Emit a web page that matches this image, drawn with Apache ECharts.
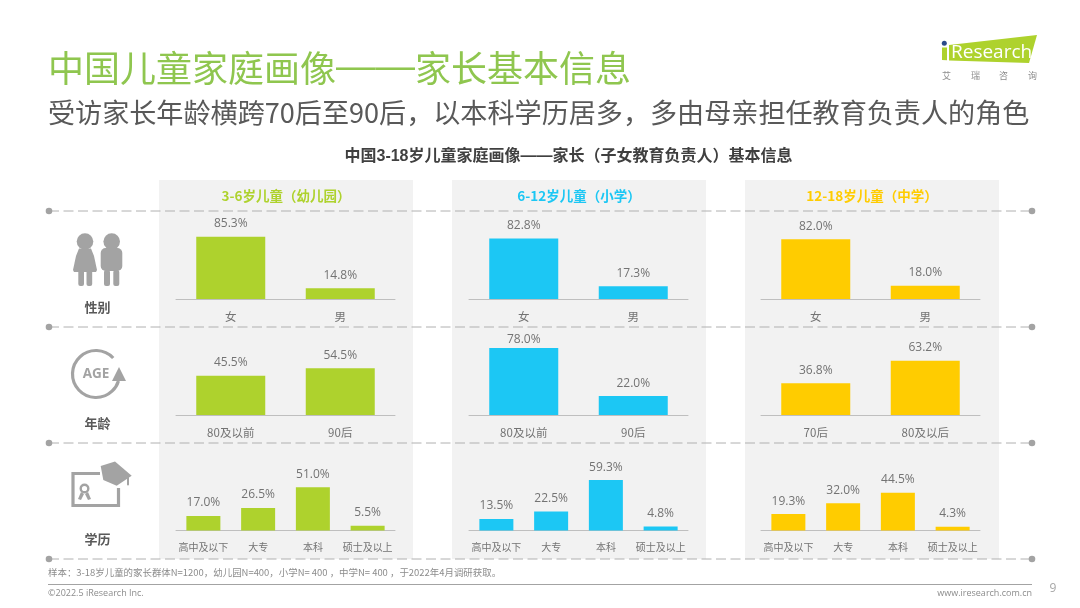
<!DOCTYPE html>
<html>
<head>
<meta charset="utf-8">
<style>html,body{margin:0;padding:0;background:#fff}#chart{width:1080px;height:608px}</style>
<script src="https://cdn.jsdelivr.net/npm/echarts@6/dist/echarts.min.js"></script>
</head>
<body>
<div id="chart"></div>
<script>
const sexKinder = [85.3, 14.8];
const sexPrimary = [82.8, 17.3];
const sexMiddle = [82.0, 18.0];
const ageKinder = [45.5, 54.5];
const agePrimary = [78.0, 22.0];
const ageMiddle = [36.8, 63.2];
const eduKinder = [17.0, 26.5, 51.0, 5.5];
const eduPrimary = [13.5, 22.5, 59.3, 4.8];
const eduMiddle = [19.3, 32.0, 44.5, 4.3];

const sexLabels = ['女', '男'];
const ageLabelsA = ['80及以前', '90后'];
const ageLabelsB = ['70后', '80及以后'];
const eduLabels = ['高中及以下', '大专', '本科', '硕士及以上'];
const panelTitles = ['3-6岁儿童（幼儿园）', '6-12岁儿童（小学）', '12-18岁儿童（中学）'];
const rowTitles = ['性别', '年龄', '学历'];

const FONT = '"Open Sans","Noto Sans CJK SC",sans-serif';
const CJK = '"Noto Sans CJK SC","Noto Sans",sans-serif';
// Liberation first so the em dashes come out full width
const WIDE_DASH = '"Liberation Sans","Noto Sans CJK SC",sans-serif';
const GREY = '#a3a3a3';
const colors = ['#aed22d', '#1cc7f4', '#ffcc00'];
const panelX = [159, 452, 745];
const gridX = [176, 469, 761];
// top and height of each row, y axis always runs 0-100
const rows = [
  { top: 226, height: 73, barWidth: 69, labelSize: 11.5 },
  { top: 329, height: 86, barWidth: 69, labelSize: 11.5 },
  { top: 445.5, height: 85, barWidth: 34, labelSize: 10 }
];
const table = [
  [[sexLabels, sexKinder], [ageLabelsA, ageKinder], [eduLabels, eduKinder]],
  [[sexLabels, sexPrimary], [ageLabelsA, agePrimary], [eduLabels, eduPrimary]],
  [[sexLabels, sexMiddle], [ageLabelsB, ageMiddle], [eduLabels, eduMiddle]]
];

const grid = [], xAxis = [], yAxis = [], series = [];
table.forEach((panel, p) => {
  panel.forEach(([cats, vals], r) => {
    const i = grid.length;
    grid.push({ left: gridX[p], top: rows[r].top, width: 219, height: rows[r].height });
    xAxis.push({
      type: 'category', gridIndex: i, data: cats,
      axisTick: { show: false },
      axisLine: { lineStyle: { color: '#bfbfbf', width: 1 } },
      axisLabel: { interval: 0, hideOverlap: false, margin: 12, fontSize: rows[r].labelSize, color: '#737373', fontFamily: CJK }
    });
    yAxis.push({ type: 'value', gridIndex: i, min: 0, max: 100, show: false });
    series.push({
      type: 'bar', xAxisIndex: i, yAxisIndex: i, silent: true,
      // the 78.0% label sits closer to its bar in the reference
      data: vals.map(v => (v === 78 ? { value: v, label: { distance: 2 } } : v)),
      barWidth: rows[r].barWidth,
      itemStyle: { color: colors[p] },
      label: {
        show: true, position: 'top', distance: 7, fontSize: 12, color: '#737373',
        fontFamily: FONT, formatter: o => o.value.toFixed(1) + '%'
      }
    });
  });
});

const txt = (x, y, text, fontSize, fill, extra) => ({
  type: 'text', x, y, z: 5,
  style: Object.assign({ text, fontSize, fill, fontFamily: CJK, textVerticalAlign: 'middle', textAlign: 'left' }, extra)
});
const poly = (points, fill) => ({ type: 'polygon', z: 5, shape: { points }, style: { fill } });
const box = (x, y, width, height, r, fill) => ({ type: 'rect', z: 5, shape: { x, y, width, height, r }, style: { fill } });
const dot = (cx, cy, r, fill) => ({ type: 'circle', z: 5, shape: { cx, cy, r }, style: { fill } });

const graphic = [];
panelX.forEach((x, p) => {
  graphic.push({ type: 'rect', z: -1, shape: { x, y: 180, width: 254, height: 379 }, style: { fill: '#f2f2f2' } });
  graphic.push(txt(x + 127, 196, panelTitles[p], 13.5, colors[p], { textAlign: 'center', fontWeight: 'bold' }));
});
[211, 327, 443, 559].forEach(y => {
  graphic.push({ type: 'line', z: 1, shape: { x1: 49, y1: y, x2: 1032, y2: y }, style: { stroke: '#b0b0b0', lineWidth: 1, lineDash: [10, 4.5] } });
  graphic.push(dot(49, y, 3.3, GREY), dot(1032, y, 3.3, GREY));
});
[307, 423, 539].forEach((y, i) => {
  graphic.push(txt(97.5, y, rowTitles[i], 13, '#595959', { textAlign: 'center', fontWeight: 'bold' }));
});

// headings
graphic.push({
  type: 'text', x: 48, y: 68, z: 5,
  style: {
    text: '{a|中国儿童家庭画像}{d|——}{a|家长基本信息}', textVerticalAlign: 'middle',
    rich: {
      a: { fontSize: 36, fontFamily: CJK, fill: '#8fc64f', color: '#8fc64f' },
      d: { fontSize: 39.5, fontFamily: WIDE_DASH, fill: '#8fc64f', color: '#8fc64f' }
    }
  }
});
graphic.push(txt(48, 113, '受访家长年龄横跨70后至90后，以本科学历居多，多由母亲担任教育负责人的角色', 27.1, '#595959'));
graphic.push(txt(568.5, 157, '中国3-18岁儿童家庭画像——家长（子女教育负责人）基本信息', 16, '#404040', { textAlign: 'center', fontWeight: 'bold', fontFamily: WIDE_DASH }));

// gender icon
graphic.push(
  dot(85, 241.5, 8.3, GREY),
  poly([[79, 248.5], [91, 248.5], [94, 256], [97, 270], [96, 272], [74, 272], [73, 270], [76, 256]], GREY),
  box(78.3, 270, 5.7, 16, 2, GREY), box(86.5, 270, 5.7, 16, 2, GREY),
  dot(111.7, 241.5, 8.3, GREY), box(100.7, 248, 21.6, 23, 5, GREY),
  box(104, 270, 6, 16, 2, GREY), box(113.3, 270, 6, 16, 2, GREY)
);
// age icon
graphic.push(
  { type: 'arc', z: 5, shape: { cx: 96, cy: 374, r: 23.5, startAngle: -0.75, endAngle: 0.3, clockwise: false }, style: { stroke: GREY, lineWidth: 3.2, fill: 'none' } },
  poly([[119, 367], [126, 381], [112, 381]], GREY),
  txt(96, 374, 'AGE', 13.5, GREY, { textAlign: 'center', fontWeight: 'bold', fontFamily: FONT })
);
// education icon
graphic.push(
  { type: 'polyline', z: 5, shape: { points: [[100, 473.5], [73, 473.5], [73, 505.5], [118.5, 505.5], [118.5, 488]] }, style: { stroke: GREY, lineWidth: 3.2, fill: 'none' } },
  poly([[100.7, 466], [115, 461.5], [131.7, 475.7], [116.7, 485.7], [103.3, 480]], GREY),
  box(127, 476, 2, 9.5, 1, GREY),
  { type: 'circle', z: 5, shape: { cx: 84.5, cy: 488.5, r: 3.8 }, style: { stroke: GREY, lineWidth: 2.4, fill: 'none' } },
  poly([[81, 492], [84, 494], [81, 500], [78, 499]], GREY),
  poly([[88, 492], [85, 494], [88, 500], [91, 499]], GREY)
);
// logo
graphic.push(
  poly([[949, 45], [1037, 35], [1029, 63], [949, 60.5]], '#aed22d'),
  poly([[942, 47.5], [947, 47.5], [947, 60.2], [942, 60]], '#aed22d'),
  dot(944.3, 43.3, 2.5, '#2b4a8b'),
  txt(951, 52.5, 'Research', 19, '#ffffff', { fontFamily: FONT }),
  txt(942, 76, '艾', 9, '#8c8c8c'), txt(971, 76, '瑞', 9, '#8c8c8c'),
  txt(999, 76, '咨', 9, '#8c8c8c'), txt(1028, 76, '询', 9, '#8c8c8c')
);
// footer
graphic.push(
  txt(48, 572, '样本：3-18岁儿童的家长群体N=1200，幼儿园N=400，小学N= 400 ，中学N= 400 ，于2022年4月调研获取。', 9.45, '#8c8c8c'),
  { type: 'line', z: 1, shape: { x1: 48, y1: 584.5, x2: 1032, y2: 584.5 }, style: { stroke: GREY, lineWidth: 1 } },
  txt(48, 593, '©2022.5 iResearch Inc.', 9, '#8c8c8c', { fontFamily: FONT }),
  txt(1032, 593, 'www.iresearch.com.cn', 9, '#8c8c8c', { textAlign: 'right', fontFamily: FONT }),
  txt(1053, 589, '9', 12, '#a6a6a6', { textAlign: 'center', fontFamily: FONT })
);

const chart = echarts.init(document.getElementById('chart'), null, { renderer: 'canvas' });
chart.setOption({ animation: false, backgroundColor: '#fff', grid, xAxis, yAxis, series, graphic: { elements: graphic } });
</script>
</body>
</html>
